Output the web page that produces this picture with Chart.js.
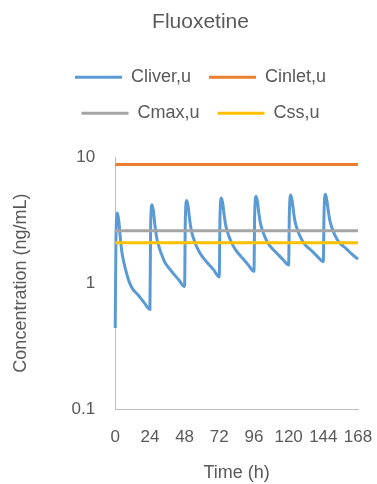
<!DOCTYPE html>
<html>
<head>
<meta charset="utf-8">
<title>Fluoxetine</title>
<script src="https://cdn.jsdelivr.net/npm/chart.js@4"></script>
<style>
  html, body { margin: 0; padding: 0; background: #fff; }
  #wrap { width: 377px; height: 484px; }
</style>
</head>
<body>
<div id="wrap"><canvas id="chart"></canvas></div>
<script>
// Fluoxetine, unbound concentrations over a week of once-daily dosing

// time points (h) of the liver curve
const timeH = [
  0,
  0.5, 1.5, 2.5, 3.5, 4.5, 6, 8, 10, 12, 16, 20, 24,
  24.5, 25.5, 26.5, 27.5, 28.5, 30, 32, 34, 36, 40, 44, 48,
  48.5, 49.5, 50.5, 51.5, 52.5, 54, 56, 58, 60, 64, 68, 72,
  72.5, 73.5, 74.5, 75.5, 76.5, 78, 80, 82, 84, 88, 92, 96,
  96.5, 97.5, 98.5, 99.5, 100.5, 102, 104, 106, 108, 112, 116, 120,
  120.5, 121.5, 122.5, 123.5, 124.5, 126, 128, 130, 132, 136, 140, 144,
  144.5, 145.5, 146.5, 147.5, 148.5, 150, 152, 154, 156, 160, 164, 168
];

// Cliver,u (ng/mL)
const cliverU = [
  0.44,
  2.2, 3.6, 3.1, 2.3, 1.8, 1.45, 1.18, 1.0, 0.9, 0.8, 0.7, 0.62,
  2.81, 4.2, 3.69, 2.87, 2.36, 1.99, 1.7, 1.49, 1.37, 1.2, 1.06, 0.94,
  3.16, 4.54, 4.02, 3.2, 2.68, 2.3, 1.99, 1.78, 1.64, 1.44, 1.28, 1.12,
  3.37, 4.74, 4.21, 3.39, 2.86, 2.48, 2.16, 1.94, 1.79, 1.58, 1.4, 1.24,
  3.48, 4.9, 4.36, 3.52, 2.98, 2.6, 2.27, 2.05, 1.92, 1.72, 1.54, 1.39,
  3.55, 5.0, 4.45, 3.6, 3.06, 2.66, 2.34, 2.12, 1.98, 1.8, 1.62, 1.48,
  3.6, 5.08, 4.5, 3.7, 3.15, 2.75, 2.4, 2.18, 2.05, 1.87, 1.69, 1.55
];

// flat reference lines, drawn across the whole week
const refTimeH = [0, 168];
const cinletU = [8.75, 8.75];
const cmaxU = [2.6, 2.6];
const cssU = [2.09, 2.09];

const seriesNames = ['Cliver,u', 'Cinlet,u', 'Cmax,u', 'Css,u'];
const seriesColors = ['#5b9bd5', '#ed7d31', '#a5a5a5', '#ffc000'];

const xTicks = [0, 24, 48, 72, 96, 120, 144, 168];
const yTicks = [0.1, 1, 10];

const toPoints = (xs, ys) => xs.map((x, i) => ({ x: x, y: ys[i] }));

Chart.defaults.font.family = "'Liberation Sans', Arial, sans-serif";
Chart.defaults.color = '#595959';

// extra room under the legend, and nudge title + legend to the right like Excel does
const legendSpacing = {
  id: 'legendSpacing',
  beforeInit(chart) {
    const fit = chart.legend.fit;
    chart.legend.fit = function () {
      fit.call(this);
      this.height += 25;
    };
  },
  afterLayout(chart) {
    [chart.titleBlock, chart.legend].forEach(box => {
      box.left += 12;
      box.right += 12;
    });
  }
};

function lineSet(i, xs, ys, order) {
  return {
    label: seriesNames[i],
    data: toPoints(xs, ys),
    borderColor: seriesColors[i],
    backgroundColor: seriesColors[i],
    borderWidth: 3,
    pointRadius: 0,
    fill: false,
    clip: false,
    order: order
  };
}

const liver = lineSet(0, timeH, cliverU, 4);
liver.cubicInterpolationMode = 'monotone';

new Chart(document.getElementById('chart'), {
  type: 'line',
  data: {
    datasets: [
      liver,
      lineSet(1, refTimeH, cinletU, 3),
      lineSet(2, refTimeH, cmaxU, 2),
      lineSet(3, refTimeH, cssU, 1)
    ]
  },
  options: {
    responsive: true,
    maintainAspectRatio: false,
    animation: false,
    layout: { padding: 0 },
    plugins: {
      title: {
        display: true,
        text: 'Fluoxetine',
        font: { size: 21, weight: 'normal' },
        color: '#595959',
        padding: { top: 10, bottom: 15 }
      },
      legend: {
        position: 'top',
        labels: {
          usePointStyle: true,
          pointStyle: 'line',
          pointStyleWidth: 47,
          padding: 18,
          font: { size: 18 },
          color: '#595959',
          sort: (a, b) => a.datasetIndex - b.datasetIndex
        }
      },
      tooltip: { enabled: false }
    },
    scales: {
      x: {
        type: 'linear',
        min: 0,
        max: 168,
        afterBuildTicks: s => { s.ticks = xTicks.map(v => ({ value: v })); },
        afterFit: s => { s.paddingRight = 19; },
        grid: { display: false, drawTicks: false },
        border: { display: true, color: '#bfbfbf', width: 1 },
        ticks: { padding: 18, font: { size: 17 }, maxRotation: 0, autoSkip: false },
        title: {
          display: true,
          text: 'Time (h)',
          font: { size: 18 },
          padding: { top: -3, bottom: 0 }
        }
      },
      y: {
        type: 'logarithmic',
        min: 0.1,
        max: 10,
        afterBuildTicks: s => { s.ticks = yTicks.map(v => ({ value: v })); },
        grid: { display: false, drawTicks: false },
        border: { display: true, color: '#bfbfbf', width: 1 },
        ticks: { padding: 20, font: { size: 17 }, callback: v => String(v) },
        title: {
          display: true,
          text: 'Concentration (ng/mL)',
          font: { size: 18 },
          padding: { top: 10, bottom: 20 }
        }
      }
    }
  },
  plugins: [legendSpacing]
});
</script>
</body>
</html>
